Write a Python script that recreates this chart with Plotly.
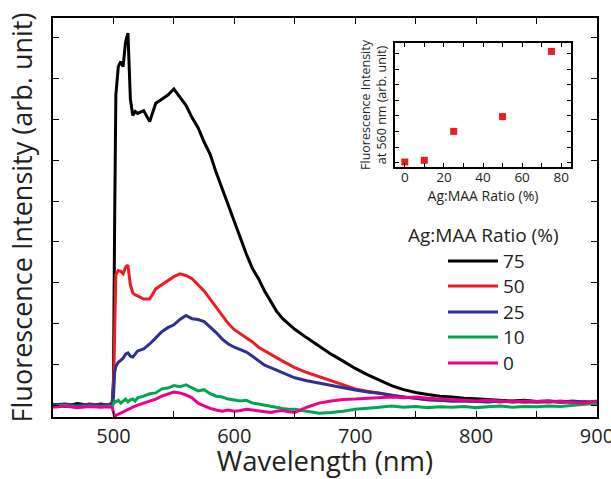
import plotly.graph_objects as go

# ---------------- data ----------------
wavelength = [450, 460, 470, 480, 490, 495, 499, 500, 501, 502, 504, 506, 508, 510, 512, 514, 516, 518, 520,
              525, 530, 535, 540, 545, 550, 555, 560, 565, 570, 575, 580, 585, 590, 595, 600, 605, 610, 615,
              620, 625, 630, 635, 640, 645, 650, 660, 670, 680, 690, 700, 710, 720, 730, 740, 750, 760, 770,
              780, 790, 800, 810, 820, 830, 840, 850, 860, 870, 880, 890, 900]

ratio_75 = [0.02, -0.03, 0.04, 0.0, 0.03, 0.0, 0.05, 0.6, 4.5, 7.6, 8.3, 8.42, 8.3, 8.9, 9.12, 7.5, 7.1, 7.2, 7.15,
            7.22, 6.95, 7.4, 7.5, 7.6, 7.75, 7.55, 7.35, 7.05, 6.8, 6.45, 6.15, 5.7, 5.3, 4.85, 4.45, 4.1, 3.7, 3.35,
            3.1, 2.8, 2.55, 2.3, 2.12, 1.98, 1.86, 1.65, 1.45, 1.25, 1.08, 0.9, 0.75, 0.61, 0.48, 0.38, 0.31, 0.26, 0.22,
            0.2, 0.17, 0.16, 0.14, 0.13, 0.1, 0.12, 0.09, 0.1, 0.07, 0.09, 0.06, 0.08]

ratio_50 = [0.0, 0.02, -0.02, 0.03, 0.0, 0.02, 0.03, 0.4, 2.2, 3.2, 3.3, 3.28, 3.22, 3.38, 3.43, 2.95, 2.75, 2.7, 2.68,
            2.6, 2.6, 2.85, 2.95, 3.05, 3.15, 3.22, 3.18, 3.1, 2.95, 2.8, 2.6, 2.4, 2.2, 2.0, 1.85, 1.75, 1.65, 1.55,
            1.42, 1.33, 1.25, 1.15, 1.08, 1.0, 0.92, 0.8, 0.7, 0.6, 0.5, 0.4, 0.34, 0.29, 0.24, 0.2, 0.17, 0.13, 0.12,
            0.1, 0.11, 0.09, 0.1, 0.08, 0.1, 0.07, 0.09, 0.08, 0.1, 0.07, 0.09, 0.08]

ratio_25 = [0.01, 0.03, -0.01, 0.02, 0.0, 0.02, 0.02, 0.2, 0.8, 0.95, 1.05, 1.1, 1.15, 1.25, 1.28, 1.2, 1.18, 1.25, 1.33,
            1.38, 1.5, 1.65, 1.8, 1.9, 1.97, 2.1, 2.2, 2.12, 2.1, 2.05, 1.92, 1.78, 1.62, 1.5, 1.42, 1.36, 1.3, 1.2,
            1.08, 0.98, 0.92, 0.86, 0.8, 0.73, 0.67, 0.6, 0.54, 0.49, 0.43, 0.37, 0.32, 0.29, 0.24, 0.2, 0.17, 0.13, 0.12,
            0.1, 0.1, 0.09, 0.08, 0.1, 0.08, 0.09, 0.07, 0.09, 0.08, 0.1, 0.07, 0.08]

ratio_10 = [-0.03, 0.0, -0.05, -0.02, -0.04, -0.02, -0.03, 0.05, 0.1, 0.08, 0.12, 0.05, 0.1, 0.15, 0.08, 0.13, 0.15, 0.1, 0.18,
            0.22, 0.28, 0.3, 0.4, 0.42, 0.48, 0.45, 0.5, 0.42, 0.35, 0.38, 0.28, 0.22, 0.2, 0.15, 0.12, 0.1, 0.12, 0.05,
            0.03, 0.0, -0.02, -0.05, -0.08, -0.1, -0.1, -0.15, -0.2, -0.18, -0.15, -0.1, -0.08, -0.05, -0.02, -0.05, -0.03, -0.06, -0.04,
            -0.05, -0.03, -0.06, -0.04, -0.02, -0.05, -0.03, -0.04, -0.02, -0.03, 0.0, 0.02, 0.04]

ratio_0 = [-0.05, -0.02, -0.06, -0.03, -0.05, -0.04, -0.06, -0.15, -0.28, -0.25, -0.22, -0.18, -0.15, -0.12, -0.1, -0.08, -0.05, -0.02, 0.0,
           0.05, 0.1, 0.15, 0.22, 0.28, 0.32, 0.3, 0.25, 0.18, 0.05, -0.02, -0.08, -0.12, -0.15, -0.12, -0.15, -0.13, -0.1, -0.12,
           -0.14, -0.15, -0.18, -0.15, -0.13, -0.16, -0.18, -0.05, 0.05, 0.1, 0.14, 0.15, 0.17, 0.18, 0.2, 0.18, 0.2, 0.17, 0.15,
           0.13, 0.12, 0.1, 0.12, 0.1, 0.08, 0.1, 0.09, 0.1, 0.08, 0.07, 0.05, 0.1]

series_names = ["75", "50", "25", "10", "0"]
series_values = [ratio_75, ratio_50, ratio_25, ratio_10, ratio_0]
series_colors = ["#000000", "#ed1c24", "#2e3192", "#00a651", "#ec008c"]

inset_ratio = [0, 10, 25, 50, 75]
inset_intensity = [0.04, 0.15, 2.01, 2.96, 7.15]

main_xtick_vals = [450, 500, 550, 600, 650, 700, 750, 800, 850, 900]
main_xtick_text = ["", "500", "", "600", "", "700", "", "800", "", "900"]
main_ytick_vals = [0, 1, 2, 3, 4, 5, 6, 7, 8, 9]
inset_xtick_vals = [0, 10, 20, 30, 40, 50, 60, 70, 80]
inset_xtick_text = ["0", "", "20", "", "40", "", "60", "", "80"]
inset_ytick_vals = [0, 1, 2, 3, 4, 5, 6, 7]

legend_title = "Ag:MAA Ratio (%)"

# ---------------- layout geometry (pixels) ----------------
W, H = 611, 479
PL, PR, PT, PB = 53, 597, 18, 417
TXT = "#231f20"
FONT = "Open Sans"


def px_x(px):
    return (px - PL) / (PR - PL)


def px_y(py):
    return (PB - py) / (PB - PT)


fig = go.Figure()
for name, vals, col in zip(series_names, series_values, series_colors):
    fig.add_trace(go.Scatter(x=wavelength, y=vals, mode="lines", name=name,
                             line=dict(color=col, width=3), showlegend=False,
                             xaxis="x", yaxis="y"))

fig.add_trace(go.Scatter(x=inset_ratio, y=inset_intensity, mode="markers",
                         marker=dict(symbol="square", size=7, color="#ed1c24"),
                         showlegend=False, xaxis="x2", yaxis="y2"))

axis_common = dict(showline=True, linewidth=1.5, linecolor="black", mirror="ticks",
                   ticks="inside", tickcolor="black", showgrid=False, zeroline=False,
                   automargin=False)

fig.update_layout(
    width=W, height=H,
    margin=dict(l=PL, r=W - PR, t=PT, b=H - PB, pad=0, autoexpand=False),
    paper_bgcolor="white", plot_bgcolor="white",
    font=dict(family=FONT, color=TXT),
    showlegend=False,
    xaxis=dict(range=[450, 900], tickvals=main_xtick_vals, ticktext=main_xtick_text,
               ticklen=6, tickwidth=1.3, tickfont=dict(size=20, color=TXT),
               ticklabeloverflow="allow",
               title=dict(text="Wavelength (nm)", font=dict(size=27.5, color=TXT), standoff=4),
               **axis_common),
    yaxis=dict(range=[-0.29, 9.49], tickvals=main_ytick_vals, showticklabels=False,
               ticklen=6, tickwidth=1.3,
               title=dict(text="Fluorescence Intensity (arb. unit)", font=dict(size=27, color=TXT), standoff=11),
               **axis_common),
    xaxis2=dict(domain=[px_x(395), px_x(571)], anchor="y2", range=[-5, 85],
                tickvals=inset_xtick_vals, ticktext=inset_xtick_text,
                ticklen=4, tickwidth=1.1, tickfont=dict(size=13.5, color=TXT),
                ticklabelstandoff=-3,
                title=dict(text="Ag:MAA Ratio (%)", font=dict(size=14, color=TXT), standoff=0),
                **axis_common),
    yaxis2=dict(domain=[px_y(167), px_y(43)], anchor="x2", range=[-0.28, 7.69],
                tickvals=inset_ytick_vals, showticklabels=False,
                ticklen=4, tickwidth=1.1,
                title=dict(text="Fluorescence Intensity<br>at 560 nm (arb. unit)", font=dict(size=12.5, color=TXT), standoff=4),
                **axis_common),
)

# manual legend
shapes = []
annotations = [dict(text=legend_title, xref="paper", yref="paper", x=px_x(483), y=px_y(235),
                    xanchor="center", yanchor="middle", showarrow=False,
                    font=dict(size=19, color=TXT, family=FONT))]
leg_y = [261, 286, 312, 337, 363]
for name, col, yy in zip(series_names, series_colors, leg_y):
    shapes.append(dict(type="line", xref="paper", yref="paper", x0=px_x(448), x1=px_x(498),
                       y0=px_y(yy), y1=px_y(yy), line=dict(color=col, width=3)))
    annotations.append(dict(text=name, xref="paper", yref="paper", x=px_x(501), y=px_y(yy),
                            xanchor="left", yanchor="middle", showarrow=False,
                            font=dict(size=19, color=TXT, family=FONT)))
fig.update_layout(shapes=shapes, annotations=annotations)

fig.write_html("out.html", config={"displayModeBar": False},
               post_script="document.body.style.margin='0';document.body.style.overflow='hidden';")
